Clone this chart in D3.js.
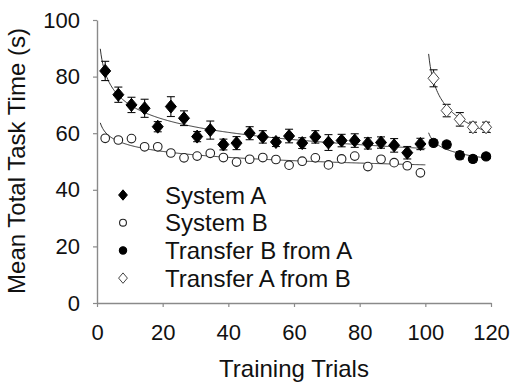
<!DOCTYPE html>
<html><head><meta charset="utf-8">
<script src="https://cdn.jsdelivr.net/npm/d3@7"></script>
<style>
body{margin:0;background:#fff}
svg{display:block}
text{font-family:"Liberation Sans",Arial,Helvetica,sans-serif;fill:#111}
</style>
</head><body><svg id="c" width="510" height="385"></svg>
<script>
// ---- data ----
const trialsMain = [2.5,6.5,10.5,14.5,18.5,22.5,26.5,30.5,34.5,38.5,42.5,46.5,50.5,54.5,58.5,62.5,66.5,70.5,74.5,78.5,82.5,86.5,90.5,94.5,98.5];
const systemA    = [82.0,73.6,70.0,68.8,62.3,69.4,65.3,58.8,61.1,56.0,56.5,60.0,58.7,56.9,59.0,56.5,58.7,56.7,57.4,57.4,56.4,56.7,55.7,53.1,56.2];
const systemAErr = [3.4,2.7,2.7,3.2,1.8,3.5,2.6,1.8,3.2,1.9,2.3,2.3,2.2,1.6,2.4,1.9,2.2,2.8,2.2,2.4,2.0,2.0,2.4,2.2,2.0];
const systemB    = [58.2,57.6,58.1,55.2,55.2,53.0,51.3,51.9,52.9,51.4,49.8,50.8,51.4,50.7,48.7,50.1,51.3,48.8,50.9,51.9,48.2,50.8,49.6,48.5,46.0];
const trialsTransfer = [102.5,106.5,110.5,114.5,118.5];
const transferBfromA    = [56.6,56.0,52.2,50.9,51.8];
const transferBfromAErr = [1.0,1.1,1.3,1.1,1.0];
const transferAfromB    = [79.4,68.0,64.9,62.1,62.1];
const transferAfromBErr = [3.0,2.2,2.4,1.8,1.8];
const xTicks = [0,20,40,60,80,100,120];
const yTicks = [0,20,40,60,80,100];
const legendLabels = ["System A","System B","Transfer B from A","Transfer A from B"];
const xTitle = "Training Trials";
const yTitle = "Mean Total Task Time (s)";

// ---- chart ----
const svg = d3.select("#c");
const x = d3.scaleLinear().domain([0,120]).range([97,491]);
const y = d3.scaleLinear().domain([0,100]).range([303,20]);

// power-law trend fit (least squares in log-log space) computed from the data
function powerFit(xs, ys){
  const lx = xs.map(Math.log), ly = ys.map(Math.log);
  const mx = d3.mean(lx), my = d3.mean(ly);
  let sxy=0, sxx=0;
  lx.forEach((v,i)=>{sxy+=(v-mx)*(ly[i]-my); sxx+=(v-mx)*(v-mx);});
  const b = sxy/sxx, a = Math.exp(my - b*mx);
  return t => a*Math.pow(t,b);
}
function fitCurve(xs, ys, offset, from, to){
  const f = powerFit(xs.map(v=>v-offset), ys);
  const pts = d3.range(from, to+0.001, 0.25).map(t=>[t+offset, f(t)]);
  return pts;
}
const line = d3.line().x(d=>x(d[0])).y(d=>y(d[1]));

// axes
const gx = svg.append("g").attr("transform","translate(0,303)")
  .call(d3.axisBottom(x).tickValues(xTicks).tickSize(4).tickSizeOuter(0).tickPadding(17));
const gy = svg.append("g").attr("transform","translate(97,0)")
  .call(d3.axisLeft(y).tickValues(yTicks).tickSize(4).tickSizeOuter(0).tickPadding(13));
[gx,gy].forEach(g=>{
  g.select(".domain").attr("stroke","#8a8a8a").attr("stroke-width",1.4);
  g.selectAll(".tick line").attr("stroke","#8a8a8a").attr("stroke-width",1.2);
  g.selectAll(".tick text").attr("font-size",22).attr("fill","#111")
    .attr("font-family",'"Liberation Sans",Arial,sans-serif');
});

svg.append("text").attr("x",294).attr("y",377).attr("text-anchor","middle")
  .attr("font-size",24).text(xTitle);
svg.append("text").attr("transform","translate(25,161) rotate(-90)").attr("text-anchor","middle")
  .attr("font-size",24).text(yTitle);

// trend lines
const fits = [
  fitCurve(trialsMain, systemA, 0, 1, 100),
  fitCurve(trialsMain, systemB, 0, 1, 100),
  fitCurve(trialsTransfer, transferBfromA, 100, 1, 20),
  fitCurve(trialsTransfer, transferAfromB, 100, 1, 20)
];
svg.append("g").selectAll("path").data(fits).join("path")
  .attr("d", line).attr("fill","none").attr("stroke","#333").attr("stroke-width",1);

// error bars
function errBars(xs, ys, es){
  const g = svg.append("g").attr("stroke","#111").attr("stroke-width",1.1);
  xs.forEach((xv,i)=>{
    const cx = x(xv), y0 = y(ys[i]-es[i]), y1 = y(ys[i]+es[i]);
    g.append("line").attr("x1",cx).attr("x2",cx).attr("y1",y0).attr("y2",y1);
    g.append("line").attr("x1",cx-4).attr("x2",cx+4).attr("y1",y0).attr("y2",y0);
    g.append("line").attr("x1",cx-4).attr("x2",cx+4).attr("y1",y1).attr("y2",y1);
  });
}
errBars(trialsMain, systemA, systemAErr);
errBars(trialsTransfer, transferBfromA, transferBfromAErr);
errBars(trialsTransfer, transferAfromB, transferAfromBErr);

const diamond = (w,h)=>`M0,${-h}L${w},0L0,${h}L${-w},0Z`;
const markerStyles = [
  {shape:"diamond", fill:"#000", stroke:"#000", w:5.5, h:6.5},
  {shape:"circle",  fill:"#fff", stroke:"#222", r:4.3},
  {shape:"circle",  fill:"#000", stroke:"#000", r:4.6},
  {shape:"diamond", fill:"#fff", stroke:"#444", w:5.5, h:6.5}
];
function drawMarker(g, s, cx, cy, scale){
  if(s.shape==="diamond"){
    g.append("path").attr("d",diamond(s.w*scale,s.h*scale))
      .attr("transform",`translate(${cx},${cy})`)
      .attr("fill",s.fill).attr("stroke",s.stroke).attr("stroke-width",1);
  } else {
    g.append("circle").attr("cx",cx).attr("cy",cy).attr("r",s.r*scale)
      .attr("fill",s.fill).attr("stroke",s.stroke).attr("stroke-width",1.1);
  }
}
const seriesList = [
  [trialsMain, systemA],
  [trialsMain, systemB],
  [trialsTransfer, transferBfromA],
  [trialsTransfer, transferAfromB]
];
seriesList.forEach(([xs,ys],k)=>{
  const g = svg.append("g");
  xs.forEach((xv,i)=>drawMarker(g, markerStyles[k], x(xv), y(ys[i]), 1));
});

// legend
const leg = svg.append("g");
legendLabels.forEach((lab,i)=>{
  const cy = 195 + i*27.7;
  drawMarker(leg, markerStyles[i], 123, cy, 0.8);
  leg.append("text").attr("x",165).attr("y",cy).attr("dy","0.36em")
    .attr("font-size",24).text(lab);
});
</script>
</body></html>
